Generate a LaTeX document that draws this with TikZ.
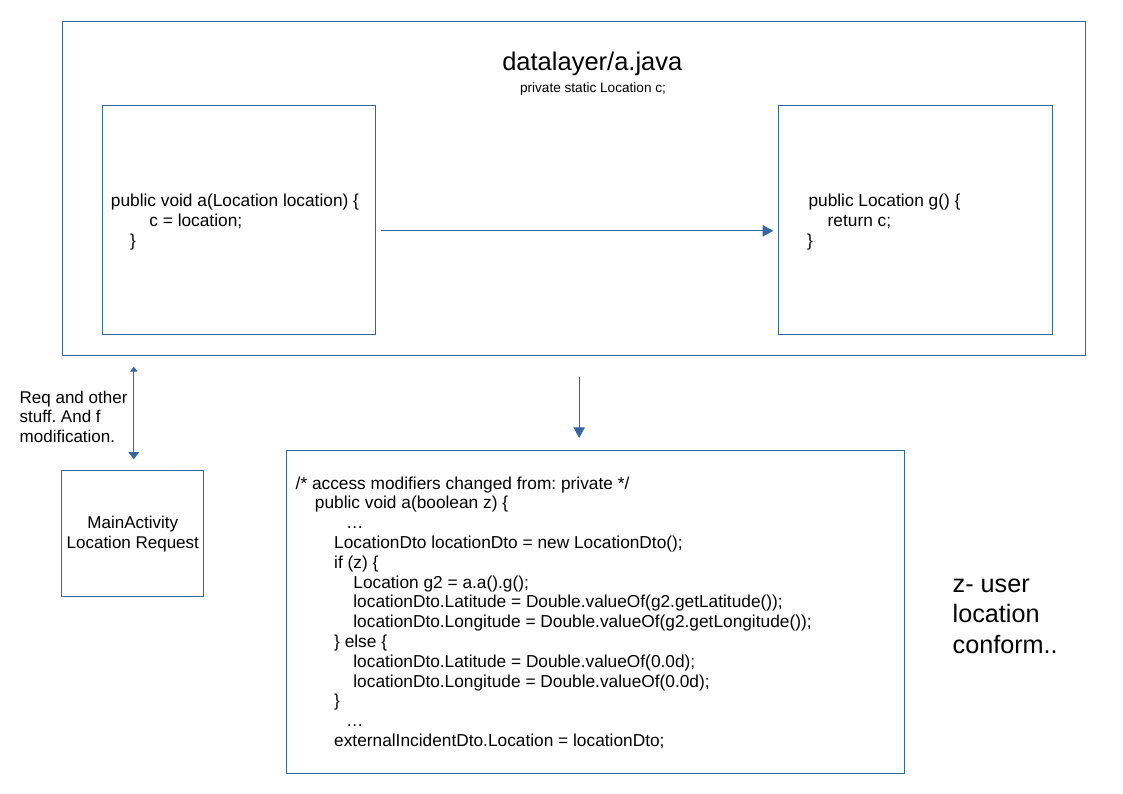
\documentclass[tikz,border=0pt]{standalone}
\usepackage{fontspec}
\setmainfont{Liberation Sans}
\usetikzlibrary{arrows.meta}
\definecolor{lo}{HTML}{3465A4}
\frenchspacing
\begin{document}
\frenchspacing
\begin{tikzpicture}[x=1pt,y=-1pt,
  box/.style={draw=lo, line width=1pt, inner sep=0pt, anchor=north west},
  txt/.style={inner sep=0pt, anchor=base west, align=left, text=black},
  arr/.style={draw=lo, line width=1pt, -{Triangle[length=10.7pt,width=11.3pt]}},
  dbl/.style={draw=lo, line width=1pt, {Triangle[length=4.7pt,width=7.3pt]}-{Triangle[length=7.3pt,width=10.7pt]}}
]
\useasboundingbox (0,0) rectangle (1123,794);
% boxes
\node[box, minimum width=1023.5pt, minimum height=333.8pt] (outer) at (61.5,21.5) {};
\node[box, minimum width=273.3pt, minimum height=229.3pt] (lbox) at (101.7,104.7) {};
\node[box, minimum width=273.7pt, minimum height=229.3pt] (rbox) at (778.3,104.7) {};
\node[box, minimum width=142pt, minimum height=126pt, align=center,
      font=\fontsize{17}{19.7}\selectfont] (main) at (61.3,470.3) {MainActivity\\Location Request};
\node[box, minimum width=618pt, minimum height=323.2pt] (code) at (286,449.5) {};
% titles
\node[inner sep=0pt, anchor=base, font=\fontsize{25.5}{30}\selectfont] (title) at (592.3,70.7) {datalayer/a.java};
\node[inner sep=0pt, anchor=base, font=\fontsize{13.6}{16}\selectfont] (sub) at (593,92.7) {private static Location c;};
% texts (anchor = baseline of the last line)
\node[txt, font=\fontsize{17.3}{19.8}\selectfont] (ltext) at (110.7,246.3)
  {public void a(Location location) \{\\\hspace*{38.5pt}c = location;\\\hspace*{19.2pt}\}};
\node[txt, font=\fontsize{17.3}{19.8}\selectfont] (rtext) at (808.3,246.3)
  {public Location g() \{\\\hspace*{19.2pt}return c;\\\hspace*{-1.5pt}\}};
\node[txt, font=\fontsize{17.3}{19.8}\selectfont] (ctext) at (295.5,746.4)
  {/* access modifiers changed from: private */\\
   \hspace*{19.2pt}public void a(boolean z) \{\\
   \hspace*{50.5pt}…\\
   \hspace*{38.5pt}LocationDto locationDto = new LocationDto();\\
   \hspace*{38.5pt}if (z) \{\\
   \hspace*{57.7pt}Location g2 = a.a().g();\\
   \hspace*{57.7pt}locationDto.Latitude = Double.valueOf(g2.getLatitude());\\
   \hspace*{57.7pt}locationDto.Longitude = Double.valueOf(g2.getLongitude());\\
   \hspace*{38.5pt}\} else \{\\
   \hspace*{57.7pt}locationDto.Latitude = Double.valueOf(0.0d);\\
   \hspace*{57.7pt}locationDto.Longitude = Double.valueOf(0.0d);\\
   \hspace*{38.5pt}\}\\
   \hspace*{50.5pt}…\\
   \hspace*{38.5pt}externalIncidentDto.Location = locationDto;};
\node[txt, font=\fontsize{17}{19.5}\selectfont] (req) at (19.5,442)
  {Req and other\\stuff. And f\\modification.};
\node[txt, font=\fontsize{25.2}{30.5}\selectfont] (ztext) at (952.5,653)
  {z- user\\location\\conform..};
% connectors
\draw[arr, shorten <=5pt, shorten >=5pt] ([yshift=-11pt]lbox.east) -- ([yshift=-11pt]rbox.west);
\draw[arr, shorten <=21pt, shorten >=11.5pt] ([xshift=5.4pt]outer.south) -- ([xshift=5.4pt]outer.south |- code.north);
\draw[dbl, shorten <=10.5pt, shorten >=11pt] ([xshift=1pt]main.north |- outer.south) -- ([xshift=1pt]main.north);
\end{tikzpicture}
\end{document}
